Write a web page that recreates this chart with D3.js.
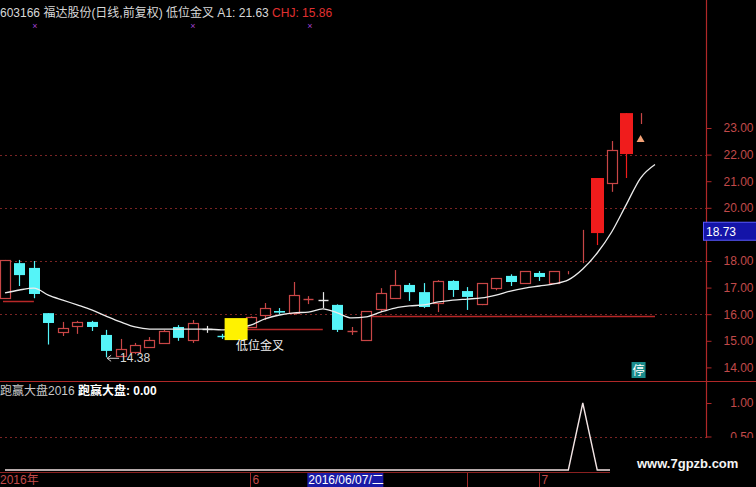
<!DOCTYPE html>
<html><head><meta charset="utf-8">
<script src="https://cdn.jsdelivr.net/npm/d3@7/dist/d3.min.js"></script>
<style>
html,body{margin:0;padding:0;background:#000;}
svg{display:block;}
text{font-family:"Liberation Sans","Noto Sans CJK SC",sans-serif;}
</style></head>
<body>
<svg id="c" width="756" height="487"></svg>
<script>
// ---------- data ----------
const dates = ["2016-05-09","2016-05-10","2016-05-11","2016-05-12","2016-05-13","2016-05-16","2016-05-17","2016-05-18","2016-05-19","2016-05-20",
"2016-05-23","2016-05-24","2016-05-25","2016-05-26","2016-05-27","2016-05-30","2016-05-31","2016-06-01","2016-06-02","2016-06-03",
"2016-06-06","2016-06-07","2016-06-08","2016-06-13","2016-06-14","2016-06-15","2016-06-16","2016-06-17","2016-06-20","2016-06-21",
"2016-06-22","2016-06-23","2016-06-24","2016-06-27","2016-06-28","2016-06-29","2016-06-30","2016-07-01","2016-07-04","2016-07-05",
"2016-07-06","2016-07-07","2016-07-08","2016-07-11","2016-07-12","2016-07-13"];
const open  = [16.60,17.92,17.74,16.04,15.33,15.56,15.71,15.22,14.43,14.58,14.77,14.92,15.52,15.03,15.44,15.19,15.30,15.52,15.97,16.12,16.04,16.55,16.53,16.35,15.35,15.03,16.20,16.61,17.10,16.83,16.42,17.25,16.87,16.38,16.98,17.44,17.17,17.55,17.17,17.62,19.17,19.05,20.93,22.02,23.56];
const high  = [18.04,18.04,18.00,16.04,15.71,15.75,15.75,15.41,15.07,14.92,15.14,15.41,15.59,15.78,15.56,15.26,15.60,15.92,16.42,16.23,17.21,16.68,16.83,16.37,15.52,16.12,16.98,17.66,17.17,17.17,17.28,17.28,17.02,17.17,17.36,17.50,17.62,17.62,17.62,17.62,19.17,21.12,22.51,23.56,23.56];
const low   = [16.60,17.06,16.60,14.86,15.18,15.26,15.37,14.38,14.40,14.50,14.74,14.88,15.00,14.92,15.30,15.07,15.25,15.50,15.78,16.00,15.97,16.38,16.23,15.33,15.22,15.00,16.08,16.60,16.50,16.23,16.08,16.65,16.16,16.34,16.90,17.06,17.17,17.25,17.17,17.50,17.92,18.60,20.60,21.12,23.15];
const close = [18.04,17.47,16.76,15.67,15.48,15.71,15.52,14.62,14.69,14.84,15.03,15.37,15.11,15.67,15.44,15.17,15.55,15.89,16.23,16.06,16.72,16.58,16.53,15.41,15.38,16.12,16.80,17.10,16.83,16.27,17.25,16.91,16.65,17.17,17.36,17.21,17.62,17.40,17.62,17.62,19.17,21.12,22.17,23.56,23.56];
const solidUp = [41,43];
const ma = [16.80,16.91,16.98,16.72,16.53,16.35,16.16,15.93,15.71,15.52,15.44,15.44,15.44,15.44,15.44,15.41,15.48,15.59,15.82,15.97,16.05,16.08,16.20,16.05,15.86,15.90,16.08,16.23,16.31,16.35,16.46,16.53,16.57,16.61,16.72,16.87,16.98,17.06,17.14,17.29,17.70,18.30,19.09,20.11,21.12,21.63];
const chjSegments = [[0,2,16.50],[16,22,15.44],[25,45,15.95]];
const signalIdx = 16, signalPrice = 15.44;
const lowMarkIdx = 7, lowMarkValue = 14.38;
const warnIdx = 44, warnPrice = 22.55;
const stopIdx = 44;
const paoying = [0,0,0,0,0,0,0,0,0,0,0,0,0,0,0,0,0,0,0,0,0,0,0,0,0,0,0,0,0,0,0,0,0,0,0,0,0,0,0,0,1,0,0,0,0,0];
const priceTicks = [14,15,16,17,18,20,21,22,23];
const gridPrices = [16,18,20,22];
const lowerTicks = [0.5,1.0];
const cursorPrice = 19.1, cursorText = "18.73";
const axisMarks = [{i:17,label:"6"},{i:32,label:""},{i:37,label:"7"}];
const selDate = {i:21,label:"2016/06/07/二"};

// ---------- scales ----------
const svg = d3.select("#c");
const W = 756, H = 487, axisX = 706;
const x = d3.scaleLinear().domain([0,45]).range([5,655]);
const y = d3.scaleLinear().domain([14,23]).range([367.4,128]);
const y2 = d3.scaleLinear().domain([0,1]).range([470,403]);
const RED = "#c84646", CYAN = "#55f4f8", SOLID = "#f01c1c", AXC = "#c24a4a", GRID = "#7a2424";
const px = v => Math.round(v) + 0.5;

svg.append("rect").attr("width",W).attr("height",H).attr("fill","#000");

// grid dotted
svg.append("g").selectAll("line").data(gridPrices).join("line")
  .attr("x1",0).attr("x2",axisX).attr("y1",d=>px(y(d))).attr("y2",d=>px(y(d)))
  .attr("stroke",GRID).attr("stroke-dasharray","2,3");
svg.append("line").attr("x1",0).attr("x2",axisX).attr("y1",px(y2(0.5))).attr("y2",px(y2(0.5)))
  .attr("stroke",GRID).attr("stroke-dasharray","2,3");

// CHJ segments
svg.append("g").selectAll("line").data(chjSegments).join("line")
  .attr("x1",d=>x(d[0])-2).attr("x2",d=>x(d[1])).attr("y1",d=>px(y(d[2]))).attr("y2",d=>px(y(d[2])))
  .attr("stroke","#b82828").attr("stroke-width",1.5);

// candles
const idx = d3.range(open.length);
const colorOf = i => close[i] > open[i] ? RED : close[i] < open[i] ? CYAN :
   (close[i] === high[i] && high[i] > low[i] ? RED : "#e8e8e8");
const cg = svg.append("g");
idx.forEach(i => {
  const cx = px(x(i)), c = colorOf(i), solid = solidUp.includes(i);
  const bt = y(Math.max(open[i],close[i])), bb = y(Math.min(open[i],close[i]));
  cg.append("line").attr("x1",cx).attr("x2",cx).attr("y1",y(high[i])).attr("y2",y(low[i]))
    .attr("stroke", solid ? SOLID : c).attr("stroke-width",1.2);
  if (bb - bt < 1.2) {
    if (close[i] < high[i] && close[i] > low[i])
      cg.append("line").attr("x1",cx-5).attr("x2",cx+5).attr("y1",px(bt)).attr("y2",px(bt))
        .attr("stroke",c).attr("stroke-width",1.4);
  } else if (c === CYAN) {
    cg.append("rect").attr("x",cx-5.5).attr("y",bt).attr("width",11).attr("height",bb-bt).attr("fill",CYAN);
  } else if (solid) {
    cg.append("rect").attr("x",cx-6.5).attr("y",bt).attr("width",13).attr("height",bb-bt).attr("fill",SOLID);
  } else {
    cg.append("rect").attr("x",cx-5).attr("y",px(bt)).attr("width",10).attr("height",Math.round(bb-bt))
      .attr("fill","#000").attr("stroke",c).attr("stroke-width",1.2);
  }
});

// MA line
svg.append("path").datum(ma)
  .attr("d", d3.line().x((d,i)=>x(i)).y(d=>y(d)).curve(d3.curveMonotoneX))
  .attr("fill","none").attr("stroke","#ececec").attr("stroke-width",1.3);

// signal (yellow square)
svg.append("rect").attr("x",x(signalIdx)-11.5).attr("y",y(signalPrice)-11).attr("width",23).attr("height",22).attr("fill","#fff200");
svg.append("text").attr("x",x(signalIdx)).attr("y",y(signalPrice)+21).attr("font-size",12).attr("fill","#f0f0f0").text("低位金叉");

// low mark
svg.append("line").attr("x1",x(lowMarkIdx)+1).attr("x2",x(lowMarkIdx)+13).attr("y1",y(lowMarkValue)+1).attr("y2",y(lowMarkValue)+1).attr("stroke","#d0d0d0");
svg.append("path").attr("d",`M${x(lowMarkIdx)+1},${y(lowMarkValue)+1} l4,-3 M${x(lowMarkIdx)+1},${y(lowMarkValue)+1} l4,3`).attr("stroke","#d0d0d0").attr("fill","none");
svg.append("text").attr("x",x(lowMarkIdx)+14).attr("y",y(lowMarkValue)+5).attr("font-size",12).attr("fill","#d8d8d8").text(lowMarkValue.toFixed(2));

// warning triangle
svg.append("path").attr("d",`M${x(warnIdx)},${y(warnPrice)-5} l4,7 l-8,0 Z`).attr("fill","#f4a276");

// 停 label
svg.append("rect").attr("x",x(stopIdx)-9).attr("y",362).attr("width",14).attr("height",16).attr("fill","#1a8c8c");
svg.append("text").attr("x",x(stopIdx)-2).attr("y",375).attr("text-anchor","middle").attr("font-size",12).attr("fill","#fff").text("停");

// separators
svg.append("line").attr("x1",0).attr("x2",W).attr("y1",381.5).attr("y2",381.5).attr("stroke","#b02828").attr("stroke-width",1.2);
svg.append("line").attr("x1",0).attr("x2",axisX).attr("y1",472.5).attr("y2",472.5).attr("stroke","#8a2020");
svg.append("line").attr("x1",axisX+0.5).attr("x2",axisX+0.5).attr("y1",0).attr("y2",H).attr("stroke","#b02828").attr("stroke-width",1.2);

// price axis
const ax = svg.append("g").attr("transform",`translate(${axisX+0.5},0)`)
  .call(d3.axisRight(y).tickValues(priceTicks).tickFormat(d3.format(".2f")).tickSize(5).tickPadding(10));
ax.select(".domain").remove();
ax.selectAll("line").attr("stroke","#b02828");
ax.selectAll("text").attr("fill",AXC).attr("font-size",12).attr("x",47).attr("text-anchor","end");

// cursor price box
svg.append("rect").attr("x",703.5).attr("y",y(cursorPrice)-9.5).attr("width",53).attr("height",18).attr("fill","#1414a8").attr("stroke","#5a5aff");
svg.append("text").attr("x",706).attr("y",y(cursorPrice)+4.5).attr("font-size",12).attr("fill","#fff").text(cursorText);

// lower panel
svg.append("path").datum(paoying)
  .attr("d", d3.line().x((d,i)=>x(i)).y(d=>y2(d)))
  .attr("fill","none").attr("stroke","#f2e4e4").attr("stroke-width",1.4);
const ax2 = svg.append("g").attr("transform",`translate(${axisX+0.5},0)`)
  .call(d3.axisRight(y2).tickValues(lowerTicks).tickFormat(d3.format(".2f")).tickSize(5).tickPadding(10));
ax2.select(".domain").remove();
ax2.selectAll("line").attr("stroke","#b02828");
ax2.selectAll("text").attr("fill",AXC).attr("font-size",12).attr("x",47).attr("text-anchor","end");

svg.append("text").attr("x",0).attr("y",395).attr("font-size",12)
  .call(t=>{t.append("tspan").attr("fill","#c8c8c8").text("跑赢大盘2016 ");
           t.append("tspan").attr("fill","#ffffff").attr("font-weight","bold").text("跑赢大盘: 0.00");});

// x axis
svg.append("text").attr("x",0).attr("y",484).attr("font-size",12).attr("fill",AXC).text(dates[0].slice(0,4)+"年");
axisMarks.forEach(m=>{
  const xx = px(x(m.i)-0.5);
  svg.append("line").attr("x1",xx).attr("x2",xx).attr("y1",473).attr("y2",H).attr("stroke","#a02828");
  if (m.label) svg.append("text").attr("x",xx+2).attr("y",484).attr("font-size",12).attr("fill",AXC).text(m.label);
});
svg.append("rect").attr("x",x(selDate.i)-1).attr("y",473).attr("width",76).attr("height",14).attr("fill","#1a1aa6");
svg.append("text").attr("x",x(selDate.i)).attr("y",484).attr("font-size",12).attr("fill","#fff").text(selDate.label);

// watermark box
svg.append("rect").attr("x",610).attr("y",438).attr("width",146).attr("height",49).attr("fill","#000");
svg.append("text").attr("x",637).attr("y",468).attr("font-size",13).attr("font-weight","bold").attr("fill","#f4f4f4").text("www.7gpzb.com");

// header
svg.append("text").attr("x",0).attr("y",17).attr("font-size",12)
  .call(t=>{t.append("tspan").attr("fill","#d8d8d8").text("603166 福达股份(日线,前复权) 低位金叉  A1: "+ma[ma.length-1].toFixed(2)+"  ");
           t.append("tspan").attr("fill","#e03030").text("CHJ: 15.86");});
svg.append("g").selectAll("text").data([35,193,310]).join("text")
  .attr("x",d=>d).attr("y",29).attr("text-anchor","middle").attr("font-size",9).attr("fill","#a040d0").text("×");
</script>
</body></html>
